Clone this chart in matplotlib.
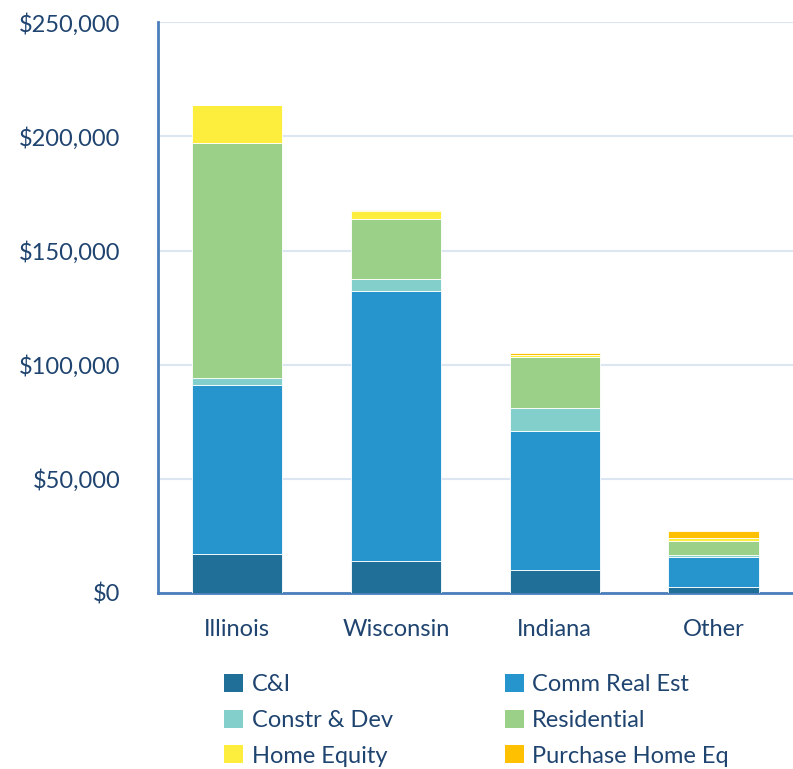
import numpy as np
import matplotlib.pyplot as plt
from matplotlib.patches import Patch
from matplotlib.ticker import FuncFormatter

regions = ["Illinois", "Wisconsin", "Indiana", "Other"]

# values in $ thousands
c_and_i = [17100, 14000, 9900, 2800]
comm_real_est = [74100, 118400, 61200, 13100]
constr_dev = [3100, 5100, 10000, 600]
residential = [102600, 26100, 22400, 6300]
home_equity = [16800, 3800, 700, 1300]
purchase_home_eq = [0, 400, 700, 3000]

series = [
    ("C&I", c_and_i, "#1f6f99"),
    ("Comm Real Est", comm_real_est, "#2795cd"),
    ("Constr & Dev", constr_dev, "#82cfcc"),
    ("Residential", residential, "#9ad087"),
    ("Home Equity", home_equity, "#fdee3d"),
    ("Purchase Home Eq", purchase_home_eq, "#ffc000"),
]

text_col = "#1f4470"
axis_col = "#4a7ebb"
plt.rcParams["font.family"] = ["Lato", "DejaVu Sans"]

fig = plt.figure(figsize=(7.93, 7.69), dpi=100)
ax = fig.add_axes([0.199, 0.229, 0.801, 0.742])

x = np.arange(len(regions))
bottom = np.zeros(len(regions))
for name, vals, col in series:
    vals = np.array(vals, dtype=float)
    ax.bar(x, vals, 0.57, bottom=bottom, color=col, edgecolor="white",
           linewidth=0.6, label=name, zorder=3)
    bottom += vals

ax.set_xlim(-0.5, 3.5)
ax.set_ylim(0, 250000)
ax.set_yticks(np.arange(0, 250001, 50000))
ax.yaxis.set_major_formatter(FuncFormatter(lambda v, p: f"${v:,.0f}"))
ax.set_xticks(x)
ax.set_xticklabels(regions)
ax.grid(axis="y", color="#dce6f2", linewidth=1.5, zorder=0)
ax.tick_params(axis="both", length=0, labelsize=17, labelcolor=text_col)
ax.tick_params(axis="y", pad=27)
ax.tick_params(axis="x", pad=19)

for s in ["top", "right"]:
    ax.spines[s].set_visible(False)
for s in ["left", "bottom"]:
    ax.spines[s].set_color(axis_col)
    ax.spines[s].set_linewidth(2)

handles = [Patch(facecolor=col, label=name) for name, _, col in series]
order = [0, 2, 4, 1, 3, 5]
leg = fig.legend([handles[i] for i in order], [series[i][0] for i in order],
                 ncol=2, loc="upper left", bbox_to_anchor=(0.283, 0.124),
                 frameon=False, fontsize=17, handlelength=0.8, handleheight=0.8,
                 handletextpad=0.35, columnspacing=4.75, labelspacing=0.62,
                 borderaxespad=0, borderpad=0)
for t in leg.get_texts():
    t.set_color(text_col)

fig.savefig("out.png", dpi=100)
